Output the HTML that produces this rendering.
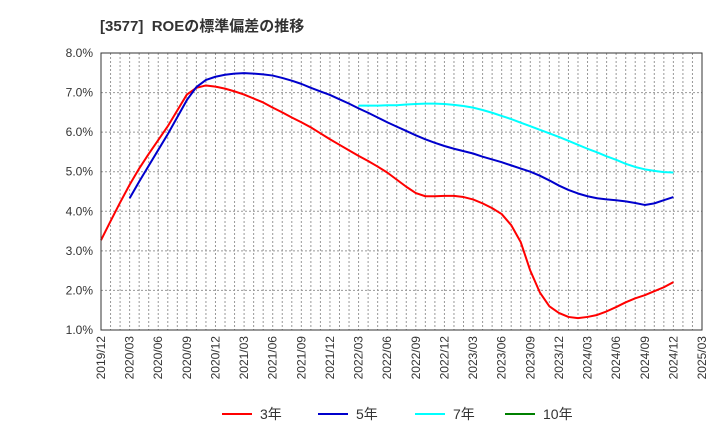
<!DOCTYPE html>
<html><head><meta charset="utf-8"><style>
body{margin:0;background:#fff;font-family:"Liberation Sans","Noto Sans CJK JP",sans-serif}
svg text{font-family:"Liberation Sans","Noto Sans CJK JP",sans-serif}
</style></head><body>
<svg id="chart" width="720" height="440">
<text x="100" y="31" font-size="15" font-weight="bold" fill="#333">[3577]&#160; ROEの標準偏差の推移</text>
<g id="grid"></g>
<g id="yticks"></g>
<g id="xticks"></g>
<g id="series"></g>
<rect x="101" y="53" width="601" height="277" fill="none" stroke="#333" stroke-width="1"/>
<g id="legend"></g>
</svg>
<script>
const xLabels=["2019/12","2020/03","2020/06","2020/09","2020/12","2021/03","2021/06","2021/09","2021/12","2022/03","2022/06","2022/09","2022/12","2023/03","2023/06","2023/09","2023/12","2024/03","2024/06","2024/09","2024/12","2025/03"];
const yTicks=[1,2,3,4,5,6,7,8];
const seriesNames=["3年","5年","7年","10年"];
const seriesColors=["#ff0000","#0000cc","#00ffff","#008000"];
const start3=0;
const s3=[3.27,3.75,4.22,4.67,5.08,5.45,5.8,6.15,6.55,6.95,7.12,7.18,7.15,7.1,7.03,6.95,6.85,6.75,6.62,6.5,6.37,6.25,6.12,5.97,5.82,5.68,5.54,5.4,5.27,5.13,4.98,4.8,4.62,4.46,4.38,4.38,4.39,4.39,4.36,4.3,4.2,4.08,3.93,3.65,3.22,2.5,1.95,1.6,1.43,1.33,1.3,1.33,1.38,1.47,1.58,1.7,1.8,1.88,1.98,2.08,2.21];
const start5=3;
const s5=[4.33,4.75,5.15,5.55,5.95,6.38,6.81,7.14,7.32,7.4,7.45,7.48,7.49,7.48,7.46,7.43,7.37,7.3,7.22,7.12,7.03,6.94,6.83,6.72,6.6,6.49,6.37,6.25,6.14,6.03,5.92,5.82,5.73,5.65,5.58,5.52,5.46,5.38,5.31,5.24,5.16,5.08,5.0,4.9,4.78,4.65,4.54,4.45,4.38,4.33,4.3,4.28,4.25,4.21,4.16,4.2,4.28,4.36];
const start7=27;
const s7=[6.67,6.67,6.67,6.68,6.68,6.7,6.71,6.72,6.72,6.71,6.69,6.66,6.62,6.56,6.49,6.41,6.33,6.24,6.15,6.06,5.97,5.88,5.78,5.68,5.58,5.49,5.39,5.3,5.2,5.12,5.06,5.02,4.99,4.98];
const s10=[];

const L=101,R=702,T=53,B=330,NM=63,YMIN=1,YMAX=8;
const xs=m=>L+(R-L)*m/NM;
const ys=v=>B-(B-T)*(v-YMIN)/(YMAX-YMIN);
const NS="http://www.w3.org/2000/svg";
function mk(tag,attrs,parent){const e=document.createElementNS(NS,tag);for(const k in attrs)e.setAttribute(k,attrs[k]);parent.appendChild(e);return e;}
const grid=document.getElementById('grid'),yt=document.getElementById('yticks'),xt=document.getElementById('xticks'),sg=document.getElementById('series'),lg=document.getElementById('legend');
for(let m=1;m<NM;m++){const l=mk('line',{x1:xs(m),x2:xs(m),y1:T,y2:B,stroke:'#999','stroke-dasharray':'2,2'},grid);

}
yTicks.forEach(v=>{if(v>YMIN&&v<YMAX){const l=mk('line',{x1:L,x2:R,y1:ys(v),y2:ys(v),stroke:'#999','stroke-dasharray':'2,2'},grid);

}
const t=mk('text',{x:93,y:ys(v)+4,'text-anchor':'end','font-size':12,fill:'#333'},yt);t.textContent=v.toFixed(1)+'%';

});
xLabels.forEach((s,i)=>{const x=xs(i*3);const t=mk('text',{x:0,y:0,'text-anchor':'end','font-size':12,fill:'#333',transform:`translate(${x+4},336) rotate(-90)`},xt);t.textContent=s;

});
[[s3,start3],[s5,start5],[s7,start7],[s10,0]].forEach(([arr,st],k)=>{if(!arr.length)return;
const p=mk('polyline',{points:arr.map((v,i)=>xs(st+i)+','+ys(v)).join(' '),fill:'none',stroke:seriesColors[k],'stroke-width':2,'stroke-linejoin':'round'},sg);

});
const lx=[222,318,415,505];
seriesNames.forEach((n,k)=>{const g=mk('g',{},lg);


mk('line',{x1:lx[k],x2:lx[k]+30,y1:414,y2:414,stroke:seriesColors[k],'stroke-width':2},g);
const t=mk('text',{x:lx[k]+38,y:419,'font-size':14,fill:'#333'},g);t.textContent=n;});
</script>
</body></html>
